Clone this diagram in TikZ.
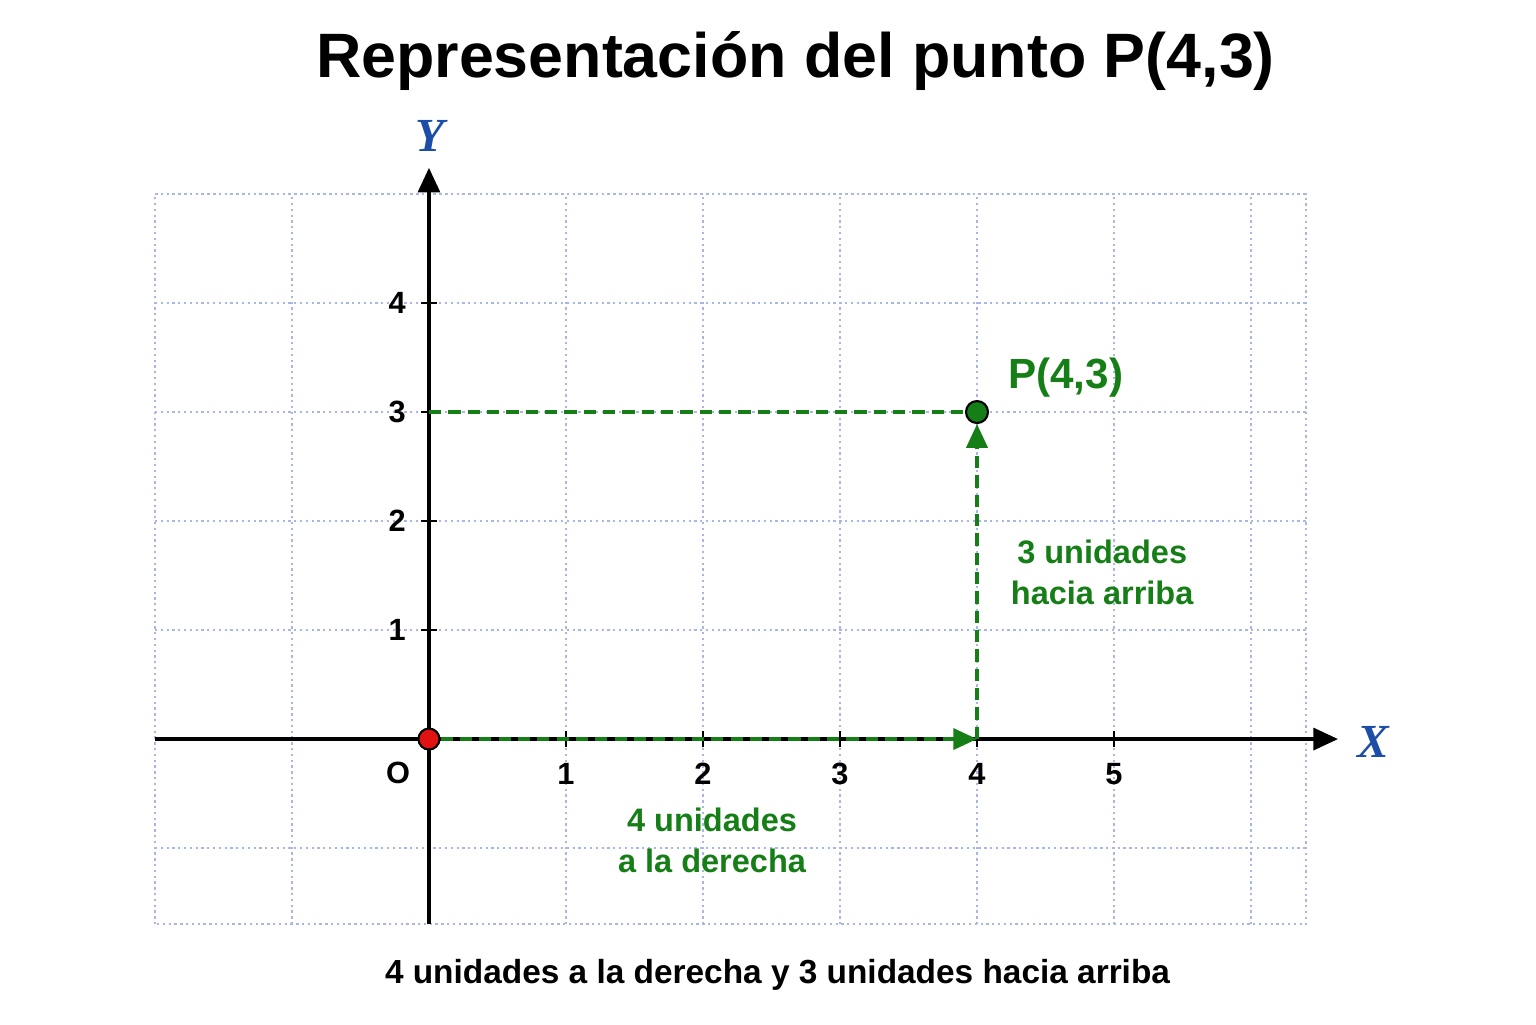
\documentclass[tikz,border=0pt]{standalone}
\usepackage{fontspec}
\setmainfont{Liberation Sans}
\newfontfamily\axisfont{Liberation Serif}
\usetikzlibrary{arrows.meta}
\definecolor{gridblue}{RGB}{170,182,230}
\definecolor{axisblue}{RGB}{28,78,168}
\definecolor{ptgreen}{RGB}{22,126,22}
\definecolor{ptred}{RGB}{226,18,18}
\tikzset{%
  gridline/.style = {gridblue, line width=1.2pt, dash pattern=on 1.3pt off 2pt},
  axis/.style = {-{Triangle[length=14pt,width=12.5pt]}, line width=1.9pt},
  tickmark/.style = {line width=1.6pt},
  guide/.style = {ptgreen, line width=2pt, dash pattern=on 7pt off 4pt},
  guidearrow/.style = {guide, -{Triangle[length=13.5pt,width=12pt]}},
  dot/.style = {circle, draw=black, line width=1.2pt, inner sep=0pt,
        minimum size=0.42cm},
  ticklabel/.style = {font=\bfseries\fontsize{17.5}{17.5}\selectfont, inner sep=0pt},
  axislabel/.style = {font=\axisfont\bfseries\itshape\fontsize{27}{27}\selectfont,
        text=axisblue, inner sep=0pt},
  steplabel/.style = {font=\bfseries\fontsize{18.5}{23.2}\selectfont,
        text=ptgreen, align=center, inner sep=0pt}
}
\begin{document}
\begin{tikzpicture}[x=2.74cm, y=2.18cm]
    \useasboundingbox[fill=white] (-3.131,-2.615) rectangle (8.080,6.780);
    % grid
    \draw[gridline, step={(1,1)}] (-2,-1.7) grid (6.4,5);
    \draw[gridline] (-2,-1.7) rectangle (6.4,5);
    % axes
    \coordinate (xstart) at (-2,0);
    \coordinate (xend) at (6.635,0);
    \coordinate (ystart) at (0,-1.7);
    \coordinate (yend) at (0,5.24);
    \draw[axis] (xstart) -- (xend);
    \draw[axis] (ystart) -- (yend);
    \foreach \i in {1,...,5}
        \draw[tickmark] (\i,-0.073) -- (\i,0.073);
    \foreach \j in {1,...,4}
        \draw[tickmark] (-0.058,\j) -- (0.058,\j);
    \foreach \i in {1,...,5}
        \node[ticklabel] (xt-\i) at (\i,-0.32) {\i};
    \foreach \j in {1,...,4}
        \node[ticklabel, anchor=east] (yt-\j) at (-0.168,\j) {\j};
    \node[ticklabel] (o-label) at (-0.226,-0.312) {O};
    \node[axislabel] (x-label) at (6.89,-0.03) {X};
    \node[axislabel] (y-label) at (0.007,5.532) {Y};
    % points and steps
    \coordinate (foot) at (4,0);
    \coordinate (y3) at (0,3);
    \node[dot, fill=ptred] (O) at (0,0) {};
    \node[dot, fill=ptgreen, minimum size=0.44cm] (P) at (4,3) {};
    \draw[guidearrow] (O) -- (foot);
    \draw[guidearrow] (foot) -- (P);
    \draw[guide] (y3) -- (P);
    \node[font=\bfseries\fontsize{24}{24}\selectfont, text=ptgreen, inner sep=0pt,
        anchor=base west] (p-label) at (4.226,3.22) {P(4,3)};
    \node[steplabel, anchor=north west] (up-label) at (4.245,1.826)
        {3 unidades\\hacia arriba};
    \node[steplabel, anchor=north] (right-label) at (2.066,-0.633)
        {4 unidades\\a la derecha};
    % texts
    \node[font=\bfseries\fontsize{35.7}{35.7}\selectfont, inner sep=0pt,
        anchor=base] (title) at (2.675,6.073) {Representación del punto P(4,3)};
    \node[font=\bfseries\fontsize{19}{19}\selectfont, inner sep=0pt,
        anchor=base] (caption) at (2.544,-2.239)
        {4 unidades a la derecha y 3 unidades hacia arriba};
\end{tikzpicture}
\end{document}
